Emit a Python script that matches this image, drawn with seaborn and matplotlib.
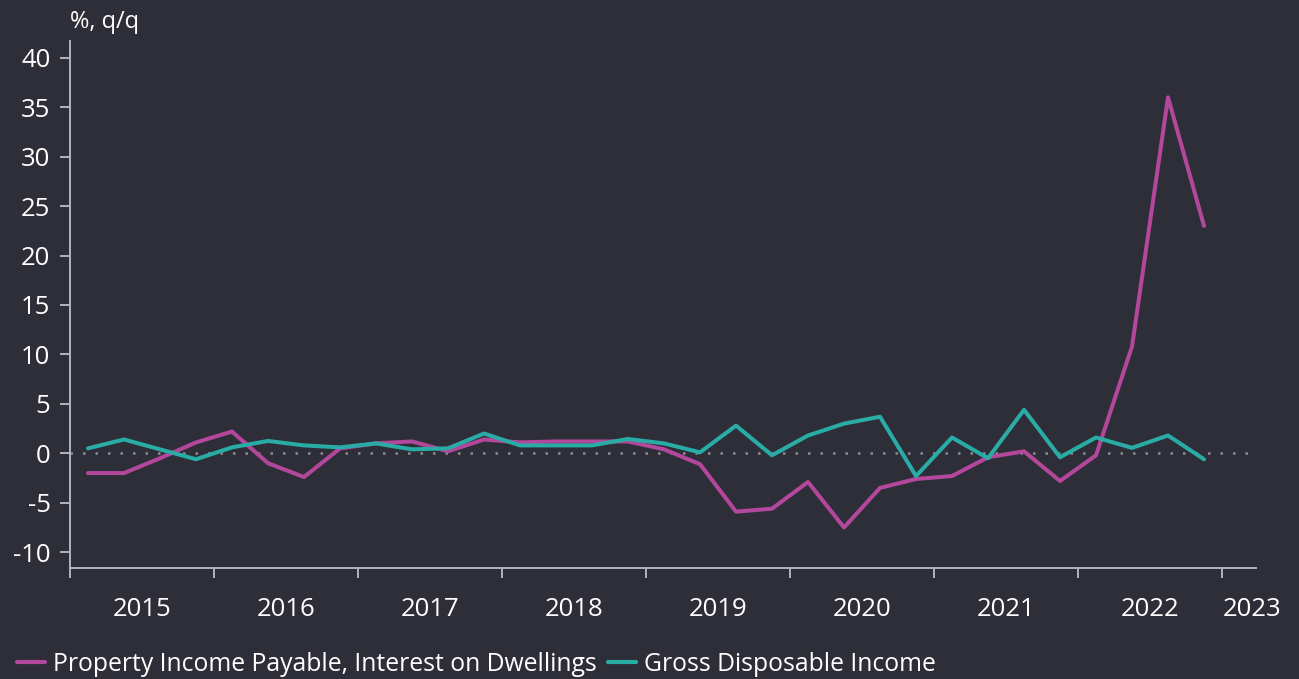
import pandas as pd
import matplotlib.pyplot as plt
import seaborn as sns
from matplotlib.lines import Line2D

# Quarterly data, 2015Q1 - 2022Q4
quarters = [f"{y}Q{q}" for y in range(2015, 2023) for q in range(1, 5)]

interest_dwellings = [-2.0, -2.0, -0.5, 1.1, 2.2, -1.0, -2.4, 0.5,
                      1.0, 1.2, 0.2, 1.4, 1.1, 1.2, 1.2, 1.2,
                      0.4, -1.1, -5.9, -5.6, -2.9, -7.5, -3.5, -2.6,
                      -2.3, -0.4, 0.2, -2.8, -0.2, 10.8, 36.0, 23.0]
gross_disposable = [0.5, 1.4, 0.4, -0.6, 0.6, 1.25, 0.8, 0.6,
                    1.0, 0.4, 0.5, 2.0, 0.8, 0.8, 0.8, 1.45,
                    1.0, 0.1, 2.8, -0.2, 1.8, 3.0, 3.7, -2.3,
                    1.6, -0.5, 4.4, -0.4, 1.6, 0.55, 1.8, -0.6]

series_names = ["Property Income Payable, Interest on Dwellings", "Gross Disposable Income"]
colors = ["#b3479c", "#29aca5"]
year_labels = ["2015", "2016", "2017", "2018", "2019", "2020", "2021", "2022", "2023"]

bg = "#2e2e38"
fg = "#ffffff"
spine_col = "#b4b4bc"

# Build long-format frame; position each quarter at its midpoint in years
pos = [int(s[:4]) + (int(s[-1]) - 0.5) / 4 for s in quarters]
df = pd.DataFrame({
    "t": pos * 2,
    "value": interest_dwellings + gross_disposable,
    "series": [series_names[0]] * len(pos) + [series_names[1]] * len(pos),
})

sns.set_theme(style="white")
plt.rcParams["font.family"] = ["Open Sans", "DejaVu Sans"]

fig = plt.figure(figsize=(12.99, 6.79), dpi=100, facecolor=bg)
ax = fig.add_axes([70 / 1299, 1 - 568 / 679, (1256 - 70) / 1299, (568 - 41) / 679])
ax.set_facecolor(bg)

# zero line
ax.axhline(0, color="#8c8c95", lw=1.8, ls=(0, (1, 4)), zorder=1)

sns.lineplot(data=df, x="t", y="value", hue="series", palette=colors,
             linewidth=2.9, legend=False, ax=ax, zorder=3)

ax.set_xlim(2015.0, 2023.236)
ax.set_ylim(-11.6, 41.7)
ax.set_yticks(range(-10, 45, 5))
ax.set_yticklabels([str(v) for v in range(-10, 45, 5)])

# year boundaries as major ticks, year labels as minor ticks
ax.set_xticks(range(2015, 2024))
ax.set_xticklabels([])
minor_pos = [int(y) + 0.5 for y in year_labels[:-1]] + [2023.21]
ax.set_xticks(minor_pos, minor=True)
ax.set_xticklabels(year_labels, minor=True)

ax.tick_params(axis="x", which="major", bottom=True, length=7, width=1.4,
               color=spine_col, direction="out")
ax.tick_params(axis="x", which="minor", bottom=True, length=0, pad=21,
               labelsize=18.5, labelcolor=fg)
ax.tick_params(axis="y", left=True, length=7, width=1.4, color=spine_col, pad=7,
               labelsize=18.5, labelcolor=fg)

for side in ["top", "right"]:
    ax.spines[side].set_visible(False)
for side in ["left", "bottom"]:
    ax.spines[side].set_color(spine_col)
    ax.spines[side].set_linewidth(1.4)

ax.set_xlabel("")
ax.set_ylabel("")

fig.text(70 / 1299, 1 - 22 / 679, "%, q/q", color=fg, fontsize=17, va="center", ha="left")

handles = [Line2D([0], [0], color=c, lw=3) for c in colors]
leg = fig.legend(handles, series_names, loc="lower left", bbox_to_anchor=(-0.004, -0.03),
                 ncol=2, frameon=False, fontsize=17.8, handlelength=1.15,
                 handletextpad=0.3, columnspacing=0.45, labelcolor=fg)

fig.savefig("out.png", dpi=100, facecolor=bg)
